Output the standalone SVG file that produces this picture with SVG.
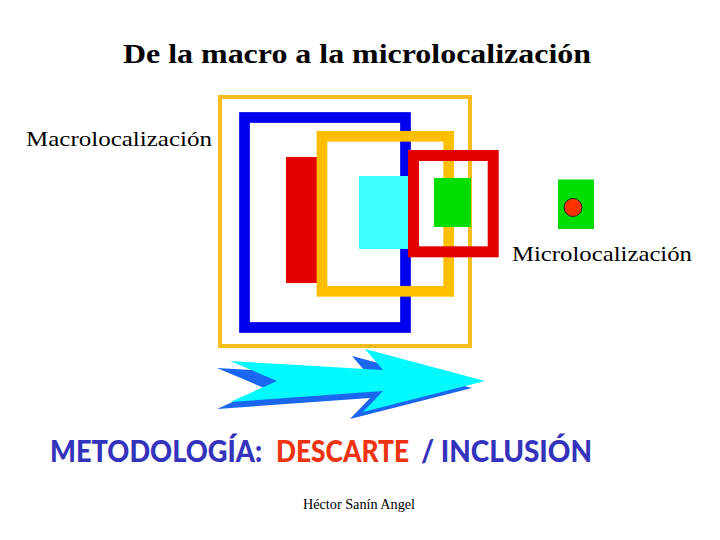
<svg xmlns="http://www.w3.org/2000/svg" xmlns:xlink="http://www.w3.org/1999/xlink" width="720" height="540" viewBox="0 0 720 540">
<style>
.serif{font-family:"Liberation Serif","Times New Roman",serif;fill:#000}
.label{font-size:22px}
.meto{font-family:"Lato","Open Sans","Liberation Sans",sans-serif;font-weight:900;font-size:31px}
.blue{fill:#3333bb}
.red{fill:#ee3311}
.frame{fill:none}
</style>
<defs>
<polygon id="arrow" points="230,361 277,381 230,402 383,391 363,412 485,381 365,349 383,370"/>
</defs>
<rect width="720" height="540" fill="#fff"/>
<g id="title"><text class="serif" x="123" y="63" font-size="28" font-weight="bold" textLength="468" lengthAdjust="spacingAndGlyphs">De la macro a la microlocalización</text></g>
<g id="macro-label"><text class="serif label" x="26" y="146" textLength="186" lengthAdjust="spacingAndGlyphs">Macrolocalización</text></g>
<g id="outer-frame"><rect class="frame" x="220" y="97" width="250" height="249" stroke="#f5be1e" stroke-width="4"/></g>
<g id="blue-frame"><rect class="frame" x="244.5" y="117.5" width="161" height="210" stroke="#0000ee" stroke-width="10.7"/></g>
<g id="red-bar"><rect x="286" y="157" width="34" height="126" fill="#e30000"/></g>
<g id="yellow-frame"><rect class="frame" x="322" y="136.3" width="126.7" height="155" stroke="#ffbe00" stroke-width="10.7"/></g>
<g id="cyan-box"><rect x="359" y="176" width="52" height="73" fill="#40ffff"/></g>
<g id="red-frame"><rect class="frame" x="413.5" y="155.5" width="79.7" height="96.3" stroke="#e30000" stroke-width="11"/></g>
<g id="green-box"><rect x="434" y="178" width="37" height="49" fill="#00dd00"/></g>
<g id="micro-site"><rect x="558" y="179.5" width="36" height="49.5" fill="#00dd00"/><circle cx="573" cy="207.5" r="9" fill="#ff3300" stroke="#222" stroke-width="1"/></g>
<g id="micro-label"><text class="serif label" x="512" y="261" textLength="180" lengthAdjust="spacingAndGlyphs">Microlocalización</text></g>
<g id="connectors">
<use xlink:href="#arrow" href="#arrow" transform="translate(-13,7)" fill="#1a66ee"/>
<use xlink:href="#arrow" href="#arrow" fill="#00fafd"/>
</g>
<g id="method">
<text class="meto blue" x="50" y="462" textLength="212" lengthAdjust="spacingAndGlyphs">METODOLOGÍA:</text>
<text class="meto red" x="276" y="462" textLength="133" lengthAdjust="spacingAndGlyphs">DESCARTE</text>
<text class="meto blue" x="421" y="462" textLength="171" lengthAdjust="spacingAndGlyphs">/ INCLUSIÓN</text>
</g>
<g id="author"><text class="serif" x="303" y="509" font-size="14" textLength="112" lengthAdjust="spacingAndGlyphs">Héctor Sanín Angel</text></g>
</svg>
